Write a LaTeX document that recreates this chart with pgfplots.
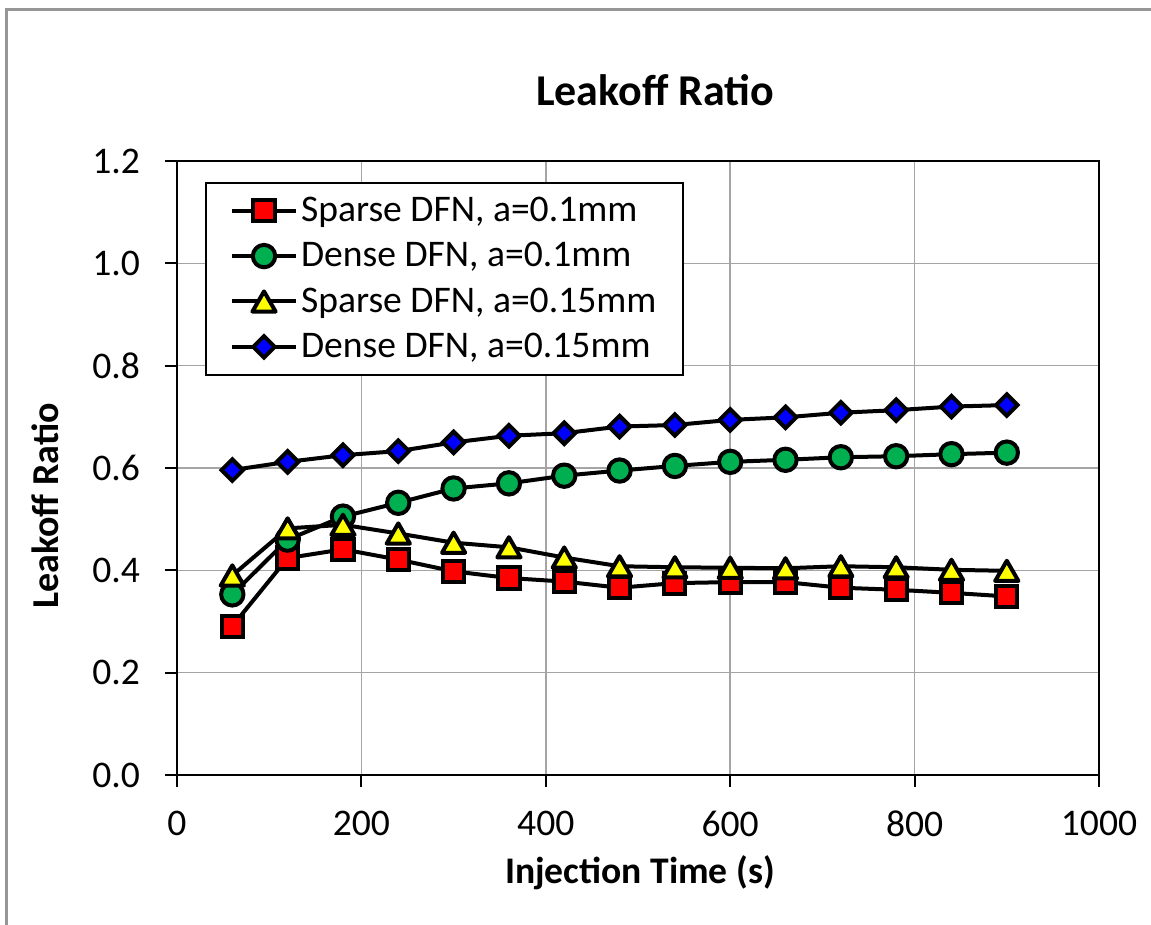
\documentclass[border=0pt]{standalone}
\usepackage{pgfplots}
\pgfplotsset{compat=1.18}
\usepackage{fontspec}
\setmainfont{Carlito}
\definecolor{exgreen}{RGB}{0,176,80}
\definecolor{exred}{RGB}{255,0,0}
\definecolor{exyellow}{RGB}{255,255,0}
\definecolor{exblue}{RGB}{0,0,255}
\definecolor{framegray}{RGB}{150,150,150}
\definecolor{gridgray}{RGB}{165,165,165}
\newcommand{\tickfont}{\fontsize{18.8}{22}\selectfont}
\pgfdeclareplotmark{xtri}{%
  \pgfpathmoveto{\pgfqpoint{0pt}{0.87\pgfplotmarksize}}%
  \pgfpathlineto{\pgfqpoint{\pgfplotmarksize}{-0.87\pgfplotmarksize}}%
  \pgfpathlineto{\pgfqpoint{-\pgfplotmarksize}{-0.87\pgfplotmarksize}}%
  \pgfpathclose
  \pgfusepathqfillstroke}
\begin{document}
\begin{tikzpicture}[x=1pt,y=1pt]
\useasboundingbox (-88.5,-75) rectangle (487,387.5);
\draw[framegray, line width=1.5pt] (-85,-80) -- (-85,382.5) -- (495,382.5);
\begin{axis}[
  at={(0,0)}, anchor=south west,
  scale only axis, width=461pt, height=307pt,
  xmin=0, xmax=1000, ymin=0, ymax=1.2,
  xtick={0,200,...,1000}, ytick={0,0.2,0.4,0.6,0.8,1.0,1.2},
  xtick pos=bottom, ytick pos=left,
  xticklabel style={/pgf/number format/1000 sep={}, yshift=-8.5pt},
  yticklabel style={/pgf/number format/.cd, fixed, fixed zerofill, precision=1, /tikz/.cd, xshift=-9pt},
  /pgf/number format/assume math mode=true,
  ticklabel style={font=\tickfont},
  tick align=outside, major tick length=6pt,
  tick style={black, line width=1pt},
  axis line style={black, line width=1.4pt},
  grid=major, major grid style={gridgray, line width=0.8pt},
  legend style={draw=black, line width=1pt, at={(0.0304,0.9658)}, anchor=north west,
    font=\tickfont, inner xsep=12pt, inner ysep=5pt, row sep=5pt,
    nodes={inner xsep=1.5pt, inner ysep=2pt}},
  legend cell align=left,
  legend image code/.code={\draw[mark repeat=2,mark phase=2] plot coordinates {(0pt,0pt) (16pt,0pt) (32pt,0pt)};},
]
\addplot[black, line width=2pt, line join=round, mark=square*, mark size=5.3pt, mark options={fill=exred, draw=black, line width=2pt, line join=miter}] coordinates {
(60,0.291)(120,0.424)(180,0.441)(240,0.421)(300,0.398)(360,0.385)(420,0.378)(480,0.366)(540,0.375)(600,0.377)(660,0.377)(720,0.366)(780,0.362)(840,0.356)(900,0.349)};
\addlegendentry{Sparse DFN, a=0.1mm}
\addplot[black, line width=2pt, line join=round, mark=*, mark size=5.6pt, mark options={fill=exgreen, draw=black, line width=2pt}] coordinates {
(60,0.353)(120,0.460)(180,0.505)(240,0.532)(300,0.560)(360,0.570)(420,0.585)(480,0.595)(540,0.604)(600,0.612)(660,0.616)(720,0.621)(780,0.623)(840,0.627)(900,0.630)};
\addlegendentry{Dense DFN, a=0.1mm}
\addplot[black, line width=2pt, line join=round, mark=xtri, mark size=5.8pt, mark options={fill=exyellow, draw=black, line width=2pt, line join=round}] coordinates {
(60,0.390)(120,0.482)(180,0.489)(240,0.472)(300,0.454)(360,0.445)(420,0.425)(480,0.408)(540,0.406)(600,0.405)(660,0.404)(720,0.408)(780,0.406)(840,0.401)(900,0.399)};
\addlegendentry{Sparse DFN, a=0.15mm}
\addplot[black, line width=2pt, line join=round, mark=square*, mark size=3.8pt, mark options={rotate=45, fill=exblue, draw=black, line width=2pt, line join=miter}] coordinates {
(60,0.596)(120,0.612)(180,0.625)(240,0.633)(300,0.650)(360,0.663)(420,0.668)(480,0.681)(540,0.684)(600,0.694)(660,0.699)(720,0.708)(780,0.713)(840,0.720)(900,0.723)};
\addlegendentry{Dense DFN, a=0.15mm}
\end{axis}
\node[font=\fontsize{22}{26}\selectfont\bfseries] at (239,342.5) {Leakoff Ratio};
\node[font=\fontsize{19}{22}\selectfont\bfseries, rotate=90] at (-66,134.5) {Leakoff Ratio};
\node[font=\fontsize{18.8}{22}\selectfont\bfseries] at (231.5,-49) {Injection Time (s)};
\end{tikzpicture}
\end{document}
